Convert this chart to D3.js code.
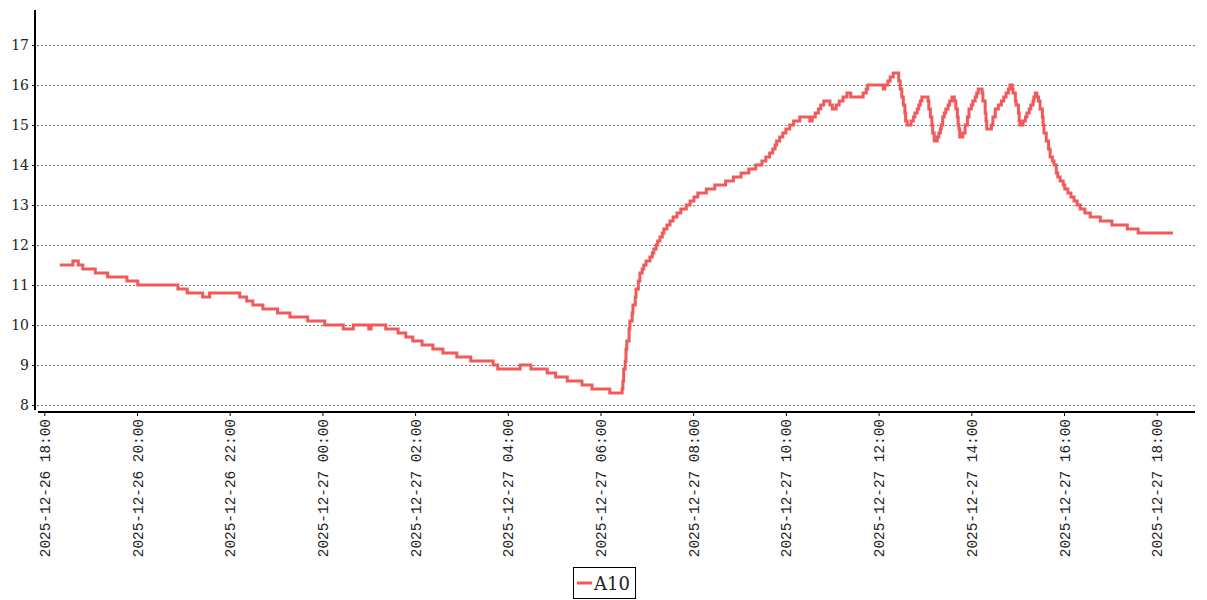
<!DOCTYPE html>
<html><head><meta charset="utf-8">
<script src="https://cdn.jsdelivr.net/npm/d3@7"></script>
<style>body{margin:0;background:#fff;overflow:hidden}</style>
</head><body>
<svg id="chart" width="1207" height="600"></svg>
<script>
// ---- data ----
const seriesName = "A10";
const startDate = "2025-12-26";
const times = [
"18:20","18:37","18:44","18:50","19:06","19:22","19:47","20:01","20:53","21:05",
"21:25","21:34","22:13","22:22","22:30","22:43","23:02","23:18","23:41","00:03",
"00:27","00:40","01:00","01:03","01:22","01:38","01:48","01:57","02:09","02:23",
"02:36","02:54","03:12","03:41","03:47","04:16","04:30","04:51","05:02","05:17",
"05:36","05:49","06:12","06:28","06:29","06:30","06:32","06:33","06:34","06:37",
"06:38","06:41","06:42","06:45","06:46","06:49","06:51","06:54","06:56","06:59",
"07:04","07:07","07:09","07:12","07:14","07:17","07:20","07:22","07:26","07:30",
"07:34","07:39","07:44","07:51","07:56","08:01","08:06","08:17","08:28","08:42",
"08:52","09:02","09:12","09:21","09:29","09:34","09:39","09:43","09:46","09:48",
"09:52","09:56","10:00","10:05","10:10","10:18","10:31","10:34","10:38","10:42",
"10:45","10:49","10:57","11:00","11:05","11:09","11:14","11:19","11:24","11:40",
"11:44","11:46","12:06","12:08","12:12","12:15","12:19","12:26","12:28","12:30",
"12:32","12:34","12:35","12:37","12:42","12:45","12:47","12:50","12:52","12:54",
"12:56","13:04","13:05","13:07","13:09","13:10","13:12","13:16","13:18","13:20",
"13:21","13:23","13:25","13:27","13:30","13:32","13:35","13:38","13:40","13:42",
"13:43","13:44","13:45","13:49","13:52","13:55","13:57","14:00","14:02","14:05",
"14:07","14:09","14:14","14:15","14:18","14:19","14:20","14:26","14:28","14:31",
"14:35","14:39","14:42","14:45","14:48","14:50","14:53","14:54","14:57","14:58",
"15:01","15:02","15:03","15:07","15:10","15:12","15:15","15:17","15:20","15:21",
"15:23","15:25","15:27","15:29","15:32","15:33","15:34","15:37","15:40","15:42",
"15:45","15:47","15:50","15:52","15:55","15:59","16:01","16:05","16:09","16:13",
"16:17","16:21","16:27","16:34","16:47","17:02","17:22","17:36","18:21"
];
const values = [
11.5,11.6,11.5,11.4,11.3,11.2,11.1,11.0,10.9,10.8,
10.7,10.8,10.7,10.6,10.5,10.4,10.3,10.2,10.1,10.0,
9.9,10.0,9.9,10.0,9.9,9.8,9.7,9.6,9.5,9.4,
9.3,9.2,9.1,9.0,8.9,9.0,8.9,8.8,8.7,8.6,
8.5,8.4,8.3,8.4,8.6,8.9,9.1,9.4,9.6,9.9,
10.1,10.3,10.5,10.7,10.9,11.1,11.3,11.4,11.5,11.6,
11.7,11.8,11.9,12.0,12.1,12.2,12.3,12.4,12.5,12.6,
12.7,12.8,12.9,13.0,13.1,13.2,13.3,13.4,13.5,13.6,
13.7,13.8,13.9,14.0,14.1,14.2,14.3,14.4,14.5,14.6,
14.7,14.8,14.9,15.0,15.1,15.2,15.1,15.2,15.3,15.4,
15.5,15.6,15.5,15.4,15.5,15.6,15.7,15.8,15.7,15.8,
15.9,16.0,15.9,16.0,16.1,16.2,16.3,16.1,15.9,15.7,
15.5,15.3,15.1,15.0,15.1,15.2,15.3,15.4,15.5,15.6,
15.7,15.6,15.4,15.2,15.0,14.8,14.6,14.7,14.8,14.9,
15.0,15.2,15.3,15.4,15.5,15.6,15.7,15.6,15.4,15.2,
15.0,14.9,14.7,14.8,15.0,15.2,15.4,15.5,15.6,15.7,
15.8,15.9,15.8,15.6,15.3,15.1,14.9,15.0,15.2,15.4,
15.5,15.6,15.7,15.8,15.9,16.0,15.9,15.8,15.6,15.5,
15.3,15.1,15.0,15.1,15.2,15.3,15.4,15.5,15.6,15.7,
15.8,15.7,15.6,15.4,15.2,15.0,14.8,14.6,14.4,14.2,
14.1,14.0,13.8,13.7,13.6,13.5,13.4,13.3,13.2,13.1,
13.0,12.9,12.8,12.7,12.6,12.5,12.4,12.3,12.3
];
const yTicks = [8,9,10,11,12,13,14,15,16,17];
const xTickLabels = [
"2025-12-26 18:00","2025-12-26 20:00","2025-12-26 22:00","2025-12-27 00:00",
"2025-12-27 02:00","2025-12-27 04:00","2025-12-27 06:00","2025-12-27 08:00",
"2025-12-27 10:00","2025-12-27 12:00","2025-12-27 14:00","2025-12-27 16:00",
"2025-12-27 18:00"
];

// ---- build ----
const parseFull = d3.timeParse("%Y-%m-%d %H:%M");
const base = parseFull(startDate + " 00:00");
let day = 0, prev = -1;
const data = times.map((s, i) => {
  const [h, m] = s.split(":").map(Number);
  const mins = h * 60 + m;
  if (mins < prev) day++;
  prev = mins;
  return { t: new Date(base.getFullYear(), base.getMonth(), base.getDate() + day, h, m), v: values[i] };
});
const tickDates = xTickLabels.map(parseFull);

const svg = d3.select("#chart");
const x = d3.scaleTime()
  .domain([tickDates[0], tickDates[tickDates.length - 1]])
  .range([44.3, 1156.7]);
const y = d3.scaleLinear().domain([7.85, 17.875]).range([411, 10]);

const labelFont = "'Liberation Mono', monospace";
const serif = "'DejaVu Serif', serif";

// grid lines
svg.append("g").selectAll("line").data(yTicks).join("line")
  .attr("x1", 37).attr("x2", 1195)
  .attr("y1", d => Math.round(y(d)) + 0.5).attr("y2", d => Math.round(y(d)) + 0.5)
  .attr("stroke", "#777").attr("stroke-width", 1).attr("stroke-dasharray", "2,2");

// y axis
const yAxis = d3.axisLeft(y).tickValues(yTicks).tickSize(3).tickPadding(3).tickFormat(d3.format("d"));
const gy = svg.append("g").attr("transform", "translate(35,0)").call(yAxis);
gy.select(".domain").remove();
gy.selectAll(".tick line").attr("stroke", "#000");
gy.selectAll(".tick text").attr("font-family", serif).attr("font-size", 14).attr("fill", "#222");
svg.append("line").attr("x1", 35).attr("x2", 35).attr("y1", 10).attr("y2", 410)
  .attr("stroke", "#000").attr("stroke-width", 2);

// x axis
const xAxis = d3.axisBottom(x).tickValues(tickDates).tickSize(4).tickFormat(d3.timeFormat("%Y-%m-%d %H:%M"));
const gx = svg.append("g").attr("transform", "translate(0,412)").call(xAxis);
gx.select(".domain").remove();
gx.selectAll(".tick line").attr("stroke", "#000");
gx.selectAll(".tick text")
  .attr("font-family", labelFont).attr("font-size", 14.4).attr("fill", "#222")
  .attr("transform", "rotate(-90)")
  .attr("text-anchor", "end").attr("x", -7).attr("y", 0).attr("dy", "0.35em");
svg.append("line").attr("x1", 38).attr("x2", 1195).attr("y1", 412).attr("y2", 412)
  .attr("stroke", "#000").attr("stroke-width", 2);

// series line
const line = d3.line().x(d => x(d.t)).y(d => y(d.v)).curve(d3.curveStepAfter);
svg.append("path").datum(data).attr("d", line)
  .attr("fill", "none").attr("stroke", "#f05a5a").attr("stroke-width", 3)
  .attr("stroke-linejoin", "miter");

// legend
const lg = svg.append("g").attr("transform", "translate(573,567)");
lg.append("rect").attr("x", 0.5).attr("y", 0.5).attr("width", 62).attr("height", 31)
  .attr("fill", "#fff").attr("stroke", "#000").attr("stroke-width", 1);
lg.append("line").attr("x1", 4).attr("x2", 19).attr("y1", 16).attr("y2", 16)
  .attr("stroke", "#f05a5a").attr("stroke-width", 3);
lg.append("text").attr("x", 21).attr("y", 23).text(seriesName)
  .attr("font-family", serif).attr("font-size", 18).attr("fill", "#222");
</script>
</body></html>
